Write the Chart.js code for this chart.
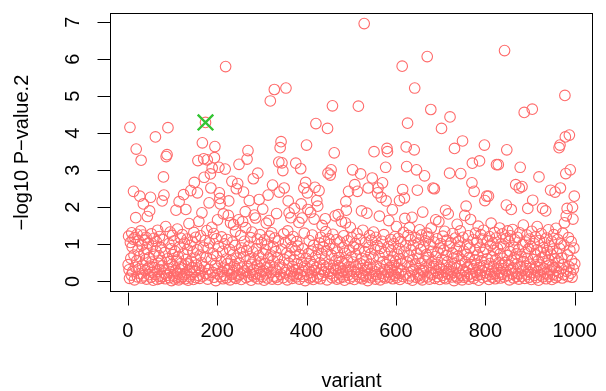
<!DOCTYPE html>
<html>
<head>
<meta charset="utf-8">
<script src="https://cdn.jsdelivr.net/npm/chart.js@4"></script>
<style>
  html, body { margin: 0; padding: 0; background: #fff; }
  canvas { display: block; }
</style>
</head>
<body>
<canvas id="manhattan" width="606" height="391"></canvas>
<script>
// -log10 p-values, one per variant (variant = index + 1)
const logP = [
  0.45, 1.22, 0.31, 0.08, 4.16, 1.05, 0.62, 0.17, 1.31, 0.93, // 1
  0.26, 1.14, 2.43, 0.71, 0.04, 1.18, 0.38, 1.72, 3.57, 0.55,
  1.27, 0.12, 0.84, 1.09, 0.33, 0.67, 2.30, 0.21, 1.36, 3.27,
  0.09, 0.98, 0.44, 1.25, 2.09, 0.15, 0.76, 1.11, 0.29, 0.58,
  1.19, 0.06, 0.87, 1.75, 0.35, 1.03, 0.18, 0.64, 1.90, 0.41,
  2.27, 0.11, 1.28, 0.52, 0.24, 0.95, 0.03, 0.73, 1.16, 0.37,
  0.19, 3.90, 0.82, 1.07, 0.27, 0.05, 1.38, 0.49, 0.14, 0.69,
  1.21, 0.32, 0.08, 0.91, 0.56, 0.13, 2.17, 0.42, 1.12, 2.82,
  2.33, 0.22, 0.78, 0.07, 1.48, 3.37, 0.16, 3.42, 0.61, 4.15,
  0.34, 1.02, 0.10, 0.53, 1.33, 0.25, 0.88, 0.02, 0.46, 1.24,
  0.72, 0.15, 0.39, 1.09, 0.06, 0.81, 0.28, 1.92, 0.57, 0.11, // 101
  1.41, 0.20, 0.66, 0.04, 2.15, 0.93, 0.31, 1.17, 0.48, 0.09,
  0.36, 1.26, 0.13, 0.74, 2.34, 0.18, 1.03, 0.42, 0.07, 1.94,
  0.59, 0.23, 1.14, 0.86, 0.03, 0.47, 1.56, 0.30, 0.12, 0.97,
  2.45, 0.54, 0.19, 1.08, 0.37, 0.79, 0.05, 1.32, 2.67, 0.26,
  0.63, 1.19, 0.10, 0.44, 0.85, 2.39, 3.26, 0.16, 1.62, 0.33,
  0.08, 0.71, 1.23, 0.28, 0.50, 1.85, 3.74, 0.14, 0.92, 3.31,
  2.81, 0.40, 1.10, 4.29, 0.21, 0.65, 1.37, 3.28, 0.06, 0.89,
  0.32, 2.12, 1.04, 0.17, 2.90, 2.52, 0.58, 1.46, 3.06, 0.24,
  0.75, 1.29, 0.11, 3.34, 3.64, 0.43, 0.02, 1.15, 0.68, 0.35,
  1.66, 0.20, 0.94, 3.08, 2.39, 2.24, 2.09, 0.13, 0.52, 1.20, // 201
  0.27, 0.81, 0.07, 1.82, 0.38, 1.01, 0.16, 3.03, 5.80, 0.60,
  0.09, 1.13, 0.47, 0.29, 1.78, 2.17, 0.34, 0.86, 0.04, 1.58,
  0.56, 0.18, 2.70, 1.06, 0.23, 0.73, 1.53, 0.12, 0.41, 0.97,
  1.35, 0.08, 2.50, 0.62, 0.30, 2.64, 0.15, 1.66, 3.16, 0.49,
  0.19, 0.77, 1.24, 0.05, 0.90, 0.36, 1.61, 0.22, 2.41, 0.67,
  1.08, 0.28, 1.88, 1.45, 0.10, 0.83, 3.30, 0.40, 3.53, 0.14,
  0.95, 2.18, 0.25, 0.61, 1.18, 0.03, 0.46, 1.33, 0.17, 0.79,
  2.77, 0.32, 1.79, 0.12, 0.57, 1.71, 0.21, 0.88, 0.44, 1.14,
  2.92, 0.07, 0.69, 2.21, 0.35, 1.26, 0.18, 0.52, 1.04, 0.26,
  0.13, 1.95, 0.74, 0.29, 0.03, 1.12, 0.48, 0.85, 0.20, 1.57, // 301
  0.38, 0.09, 1.00, 2.33, 0.63, 1.64, 1.22, 0.42, 4.87, 0.71,
  0.24, 1.31, 0.06, 2.60, 0.55, 0.93, 0.14, 5.18, 1.17, 0.33,
  0.80, 0.11, 1.83, 0.27, 0.64, 0.05, 1.09, 3.22, 2.41, 0.45,
  3.61, 0.19, 3.77, 0.87, 3.20, 0.36, 2.99, 0.10, 1.28, 2.52,
  0.58, 0.23, 1.05, 5.22, 0.31, 0.76, 0.04, 1.36, 2.17, 0.49,
  1.85, 0.15, 0.68, 1.13, 1.72, 0.26, 0.92, 0.08, 0.40, 1.21,
  0.17, 0.59, 1.97, 0.30, 0.83, 3.19, 0.12, 1.07, 0.47, 0.21,
  0.95, 0.34, 1.59, 0.06, 0.72, 0.18, 3.04, 2.09, 0.51, 1.71,
  0.28, 0.88, 0.13, 2.52, 1.30, 0.41, 0.02, 2.67, 0.62, 3.68,
  0.19, 2.39, 1.94, 0.75, 0.33, 1.10, 0.09, 0.54, 1.86, 0.24, // 401
  0.81, 0.14, 1.25, 0.45, 0.05, 0.97, 1.68, 0.29, 2.54, 0.66,
  4.26, 0.37, 2.18, 0.11, 2.03, 0.86, 0.20, 2.45, 1.03, 0.50,
  0.07, 1.19, 0.32, 0.74, 1.51, 0.16, 0.93, 0.43, 0.25, 1.08,
  0.60, 1.69, 1.34, 0.38, 0.82, 0.04, 4.13, 2.92, 0.27, 1.15,
  0.46, 1.00, 2.87, 0.21, 3.01, 0.70, 0.10, 4.74, 1.27, 0.35,
  0.15, 3.47, 0.89, 1.77, 0.31, 0.56, 1.12, 0.06, 0.79, 0.42,
  1.80, 0.22, 0.64, 0.09, 1.06, 0.36, 0.18, 1.62, 0.53, 0.28,
  0.91, 0.12, 1.23, 0.47, 0.03, 0.76, 1.58, 2.15, 1.92, 0.24,
  0.57, 1.09, 0.17, 2.43, 0.40, 0.84, 0.08, 1.46, 0.30, 0.65,
  1.18, 0.14, 3.01, 0.52, 0.94, 0.26, 0.05, 2.61, 1.02, 0.39, // 501
  0.71, 0.19, 1.29, 2.43, 0.33, 4.73, 0.87, 0.11, 1.14, 0.48,
  2.90, 0.23, 1.90, 0.62, 0.07, 1.38, 0.44, 0.16, 6.96, 0.80,
  0.29, 1.05, 0.13, 0.58, 1.84, 0.37, 0.02, 2.52, 0.92, 0.20,
  1.24, 0.46, 0.10, 0.74, 1.11, 0.32, 2.79, 0.15, 0.63, 1.33,
  3.50, 0.27, 0.85, 0.06, 1.19, 0.41, 0.18, 0.97, 2.39, 2.52,
  0.12, 0.68, 1.76, 0.35, 0.04, 0.89, 2.27, 0.22, 1.08, 2.66,
  0.53, 0.14, 1.26, 0.31, 0.77, 0.09, 3.08, 2.17, 0.45, 3.59,
  3.50, 0.25, 0.94, 1.64, 0.11, 0.57, 0.38, 1.13, 0.19, 0.82,
  0.30, 1.93, 0.07, 0.66, 1.01, 0.43, 0.16, 1.21, 0.54, 0.24,
  1.48, 0.10, 0.73, 0.36, 1.16, 0.21, 0.88, 2.18, 0.05, 0.60, // 601
  1.07, 0.28, 0.47, 5.81, 2.48, 0.13, 1.32, 0.79, 2.25, 1.70,
  0.18, 0.96, 3.63, 3.10, 0.52, 4.27, 1.24, 0.08, 0.69, 1.45,
  0.39, 0.15, 1.12, 0.84, 0.26, 1.73, 0.03, 0.58, 0.97, 0.32,
  3.55, 5.22, 0.44, 1.18, 0.11, 3.01, 0.75, 2.46, 0.20, 1.03,
  0.62, 0.17, 1.39, 0.09, 0.86, 0.48, 1.25, 0.30, 0.04, 1.87,
  0.27, 0.93, 0.14, 2.85, 0.55, 1.09, 0.36, 0.72, 1.30, 6.07,
  0.12, 0.64, 1.20, 0.41, 0.06, 0.99, 0.23, 4.64, 1.44, 0.50,
  0.81, 0.19, 2.52, 0.35, 1.06, 2.50, 0.08, 0.67, 1.66, 0.29,
  0.46, 1.15, 0.13, 0.78, 0.22, 1.61, 0.38, 0.05, 0.90, 1.02,
  0.33, 4.13, 0.59, 0.16, 1.22, 0.44, 0.84, 0.10, 1.35, 0.27, // 701
  1.92, 0.07, 0.70, 1.11, 0.21, 0.53, 1.82, 0.31, 0.95, 2.92,
  4.44, 0.18, 1.04, 0.40, 0.12, 0.76, 1.29, 0.25, 0.63, 0.02,
  3.59, 0.48, 1.17, 0.14, 0.87, 0.35, 1.54, 0.09, 0.68, 1.08,
  0.22, 0.96, 0.43, 1.36, 2.91, 0.17, 0.58, 0.04, 3.79, 1.19,
  0.30, 0.81, 0.11, 1.78, 0.52, 0.26, 2.03, 0.73, 0.15, 1.00,
  0.39, 1.23, 0.06, 0.64, 0.90, 0.20, 1.67, 0.45, 0.13, 2.66,
  3.19, 0.34, 1.12, 0.08, 2.43, 0.57, 0.85, 1.30, 0.24, 0.47,
  1.05, 0.16, 0.71, 1.49, 0.03, 0.37, 3.25, 0.92, 0.19, 1.26,
  0.55, 0.29, 1.14, 0.10, 0.78, 1.38, 0.42, 3.68, 2.18, 0.23,
  0.86, 0.14, 2.30, 0.61, 1.09, 0.32, 2.30, 0.05, 1.21, 0.48, // 801
  0.18, 0.97, 1.57, 0.27, 0.66, 0.11, 1.03, 0.40, 0.83, 0.21,
  1.32, 0.07, 0.58, 1.17, 3.15, 0.35, 0.89, 0.15, 3.15, 0.50,
  0.24, 1.44, 0.74, 0.09, 1.01, 0.43, 0.19, 1.28, 0.62, 0.33,
  0.95, 0.12, 6.23, 0.51, 1.15, 0.28, 2.06, 3.55, 0.70, 1.36,
  0.16, 0.45, 1.08, 0.04, 0.80, 1.23, 0.31, 1.94, 0.57, 0.20,
  1.40, 0.36, 0.09, 0.92, 0.63, 1.12, 0.25, 2.61, 0.74, 0.13,
  0.47, 1.19, 0.21, 0.85, 0.06, 2.52, 1.31, 3.08, 0.38, 0.67,
  0.14, 2.56, 0.99, 0.30, 1.52, 0.53, 4.56, 0.08, 0.77, 1.06,
  0.41, 0.18, 1.25, 0.62, 1.97, 0.27, 0.88, 0.11, 1.14, 0.46,
  0.23, 0.94, 0.05, 1.35, 4.65, 2.19, 0.59, 0.33, 1.02, 0.16, // 901
  0.72, 1.20, 0.39, 0.10, 0.85, 1.48, 0.26, 0.55, 0.03, 2.82,
  1.10, 0.44, 0.17, 0.79, 1.29, 0.31, 0.64, 1.97, 0.12, 0.91,
  0.35, 1.04, 0.22, 0.68, 1.90, 0.07, 1.17, 0.49, 0.83, 0.20,
  1.39, 0.58, 0.14, 0.96, 0.28, 2.46, 0.73, 1.08, 0.05, 0.42,
  0.87, 0.19, 1.26, 0.37, 0.61, 2.41, 0.10, 1.43, 0.30, 0.76,
  0.15, 1.13, 0.52, 0.24, 3.61, 0.89, 3.68, 2.52, 1.01, 0.34,
  0.63, 0.09, 1.30, 0.45, 0.18, 0.98, 1.58, 5.02, 3.90, 2.91,
  1.77, 0.27, 1.97, 0.71, 0.13, 1.18, 0.40, 3.95, 0.84, 3.01,
  0.22, 1.07, 0.56, 0.11, 2.00, 1.68, 0.33, 0.90, 2.30, 0.47
];

// highlighted variant (green cross)
const leadVariant = [174];
const leadLogP = [4.29];

const xTicks = [0, 200, 400, 600, 800, 1000];
const yTicks = [0, 1, 2, 3, 4, 5, 6, 7];
const xTitle = 'variant';
const yTitle = '\u2212log10 P\u2212value.2';

const FONT = '20px "Liberation Sans", Arial, Helvetica, sans-serif';

// R style axes: box, outward ticks, rotated y labels
const rAxes = {
  id: 'rAxes',
  afterDraw(chart) {
    const { ctx, chartArea: a, scales } = chart;
    const xs = scales.x, ys = scales.y;
    ctx.save();
    ctx.strokeStyle = '#000';
    ctx.lineWidth = 1;
    ctx.strokeRect(Math.round(a.left) + 0.5, Math.round(a.top) + 0.5,
      Math.round(a.right - a.left), Math.round(a.bottom - a.top));

    ctx.fillStyle = '#000';
    ctx.font = FONT;

    // x axis
    const bx = Math.round(a.bottom) + 0.5;
    ctx.beginPath();
    xTicks.forEach(v => {
      const px = Math.round(xs.getPixelForValue(v)) + 0.5;
      ctx.moveTo(px, bx);
      ctx.lineTo(px, bx + 13);
    });
    ctx.stroke();
    ctx.textAlign = 'center';
    ctx.textBaseline = 'middle';
    xTicks.forEach(v => ctx.fillText(String(v), xs.getPixelForValue(v), 331));
    ctx.fillText(xTitle, (a.left + a.right) / 2, 381);

    // y axis
    const lx = Math.round(a.left) + 0.5;
    ctx.beginPath();
    yTicks.forEach(v => {
      const py = Math.round(ys.getPixelForValue(v)) + 0.5;
      ctx.moveTo(lx, py);
      ctx.lineTo(lx - 13, py);
    });
    ctx.stroke();
    yTicks.forEach(v => {
      ctx.save();
      ctx.translate(73, ys.getPixelForValue(v));
      ctx.rotate(-Math.PI / 2);
      ctx.fillText(String(v), 0, 0);
      ctx.restore();
    });
    ctx.save();
    ctx.translate(22, (a.top + a.bottom) / 2);
    ctx.rotate(-Math.PI / 2);
    ctx.fillText(yTitle, 0, 0);
    ctx.restore();
    ctx.restore();
  }
};

new Chart(document.getElementById('manhattan'), {
  type: 'scatter',
  data: {
    datasets: [{
      label: 'lead',
      data: leadVariant.map((v, i) => ({ x: v, y: leadLogP[i] })),
      pointStyle: 'crossRot',
      radius: 11,
      borderWidth: 2.4,
      borderColor: '#33C433',
      backgroundColor: '#33C433'
    }, {
      label: 'variants',
      data: logP.map((p, i) => ({ x: i + 1, y: p })),
      pointStyle: 'circle',
      radius: 5.3,
      borderWidth: 1.1,
      borderColor: '#FF6B6B',
      backgroundColor: 'rgba(0,0,0,0)'
    }]
  },
  options: {
    responsive: false,
    animation: false,
    devicePixelRatio: 1,
    layout: { padding: { left: 110.3, right: 7.7, top: 10.7, bottom: 99.3 } },
    plugins: { legend: { display: false }, tooltip: { enabled: false } },
    scales: {
      x: { type: 'linear', display: false, min: -38.96, max: 1039.96 },
      y: { type: 'linear', display: false, min: -0.28, max: 7.235 }
    },
    elements: { point: { hoverRadius: 5.3 } }
  },
  plugins: [rAxes]
});
</script>
</body>
</html>
